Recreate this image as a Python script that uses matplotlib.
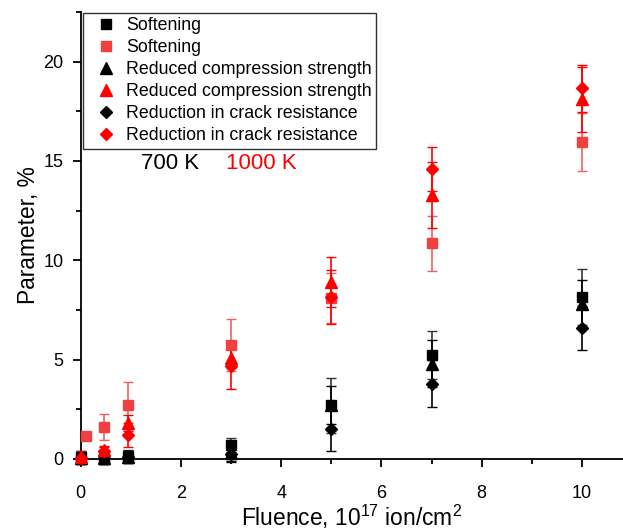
import matplotlib
matplotlib.use("Agg")
import matplotlib.pyplot as plt
from matplotlib.lines import Line2D
from matplotlib.ticker import MultipleLocator

plt.rcParams["font.family"] = ["Liberation Sans", "DejaVu Sans"]
plt.rcParams["mathtext.fontset"] = "custom"
plt.rcParams["mathtext.rm"] = "Liberation Sans"

# Fluence, 10^17 ion/cm^2
fluence = [0, 0.47, 0.95, 3, 5, 7, 10]
fluence_soft_1000 = [0.1, 0.47, 0.95, 3, 5, 7, 10]

# 700 K
soft_700 = [0.1, 0.05, 0.15, 0.7, 2.7, 5.25, 8.15]
soft_700_err = [0.3, 0.3, 0.3, 0.35, 1.4, 1.2, 1.4]
comp_700 = [0.05, 0.05, 0.1, 0.3, 2.7, 4.8, 7.8]
comp_700_err = [0.3, 0.3, 0.3, 0.4, 0.95, 1.2, 1.2]
crack_700 = [0.05, 0.05, 0.1, 0.25, 1.5, 3.8, 6.6]
crack_700_err = [0.3, 0.3, 0.3, 0.4, 1.1, 1.2, 1.1]

# 1000 K
soft_1000 = [1.15, 1.6, 2.7, 5.73, 8.1, 10.85, 15.95]
soft_1000_err = [0.1, 0.65, 1.2, 1.3, 1.25, 1.4, 1.45]
comp_1000 = [0.1, 0.45, 1.8, 5.1, 8.9, 13.3, 18.1]
comp_1000_err = [0.3, 0.2, 0.4, 0.5, 1.25, 1.65, 1.65]
crack_1000 = [0.05, 0.4, 1.2, 4.7, 8.15, 14.6, 18.65]
crack_1000_err = [0.3, 0.2, 0.6, 1.2, 1.35, 1.1, 1.2]

label_soft = "Softening"
label_comp = "Reduced compression strength"
label_crack = "Reduction in crack resistance"

fig = plt.figure(figsize=(6.23, 5.31), dpi=100)
ax = fig.add_axes([0.1295, 0.1356, 0.8705, 0.8418])

light_red = "#f04040"
ms_of = {"s": 7, "^": 9, "D": 6.5}
series = [
    (fluence, soft_700, soft_700_err, "s", "black", "#333333"),
    (fluence, comp_700, comp_700_err, "^", "black", "black"),
    (fluence, crack_700, crack_700_err, "D", "black", "black"),
    (fluence_soft_1000, soft_1000, soft_1000_err, "s", light_red, "#f06060"),
    (fluence, comp_1000, comp_1000_err, "^", "red", "red"),
    (fluence, crack_1000, crack_1000_err, "D", "red", "red"),
]
for x, y, e, m, c, ec in series:
    ax.errorbar(x, y, yerr=e, fmt=m, color=c, ecolor=ec, ms=ms_of[m],
                elinewidth=1.2, capsize=3.6, capthick=1.0, clip_on=False,
                zorder=3)

handles = [
    Line2D([], [], ls="none", marker="s", color="black", ms=7),
    Line2D([], [], ls="none", marker="s", color=light_red, ms=7),
    Line2D([], [], ls="none", marker="^", color="black", ms=8.5),
    Line2D([], [], ls="none", marker="^", color="red", ms=8.5),
    Line2D([], [], ls="none", marker="D", color="black", ms=6.5),
    Line2D([], [], ls="none", marker="D", color="red", ms=6.5),
]
labels = [label_soft, label_soft, label_comp, label_comp, label_crack, label_crack]
leg = ax.legend(handles, labels, loc="upper left", bbox_to_anchor=(0.004, 0.998),
                fontsize=12.8, frameon=True, fancybox=False, edgecolor="black",
                handlelength=2.1, handletextpad=0.1, labelspacing=0.28,
                borderpad=0.25, borderaxespad=0.0)
leg.get_frame().set_linewidth(1.0)

ax.text(0.112, 0.662, "700 K", transform=ax.transAxes, fontsize=16,
        color="black", va="center")
ax.text(0.268, 0.662, "1000 K", transform=ax.transAxes, fontsize=16,
        color="red", va="center")

ax.set_xlim(0, 10.82)
ax.set_ylim(0, 22.5)
ax.xaxis.set_major_locator(MultipleLocator(2))
ax.xaxis.set_minor_locator(MultipleLocator(1))
ax.yaxis.set_major_locator(MultipleLocator(5))
ax.yaxis.set_minor_locator(MultipleLocator(2.5))
ax.tick_params(which="major", direction="out", length=6, width=1.3, labelsize=13)
ax.tick_params(which="minor", direction="out", length=3.5, width=1.3)
ax.tick_params(axis="x", which="major", pad=13)
ax.tick_params(axis="y", which="major", pad=6.5)
ax.spines["top"].set_visible(False)
ax.spines["right"].set_visible(False)
ax.spines["left"].set_linewidth(1.3)
ax.spines["bottom"].set_linewidth(1.3)

ax.set_xlabel("Fluence, 10$^{17}$ ion/cm$^{2}$", fontsize=16.4, labelpad=0)
ax.set_ylabel("Parameter, %", fontsize=16.4, labelpad=2)

fig.savefig("out.png", dpi=100)
